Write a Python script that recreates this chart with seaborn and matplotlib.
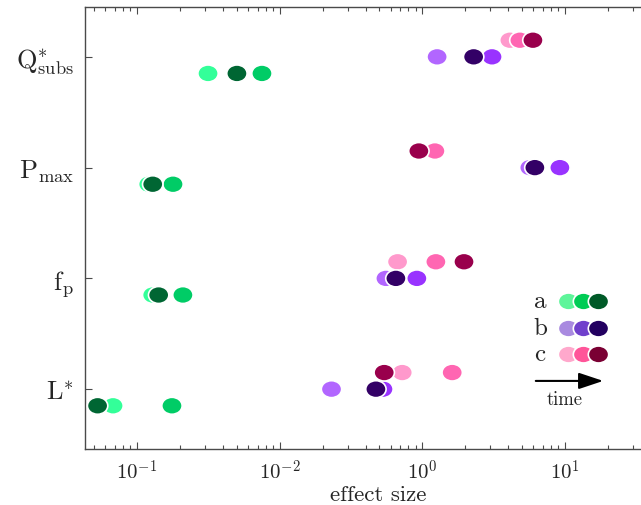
import numpy as np
import pandas as pd
import seaborn as sns
import matplotlib.pyplot as plt
from matplotlib.path import Path
from matplotlib.transforms import Affine2D

sns.set_style('white')
plt.rcParams['font.family'] = ['cmr10', 'DejaVu Serif']
plt.rcParams['mathtext.fontset'] = 'cm'
plt.rcParams['axes.unicode_minus'] = False
plt.rcParams['axes.formatter.use_mathtext'] = True

# rows of the chart, bottom to top
variables = ['L*', 'fp', 'Pmax', 'Q*subs']
var_labels = [r'$\mathrm{L}^{*}$', r'$\mathrm{f}_{\mathrm{p}}$',
              r'$\mathrm{P}_{\mathrm{max}}$', r'$\mathrm{Q}^{*}_{\mathrm{subs}}$']
groups = ['a', 'b', 'c']
times = [1, 2, 3]

# effect sizes, one list per group, [variable][time]
effect_a = [[0.0068, 0.0176, 0.0053],
            [0.0129, 0.0210, 0.0142],
            [0.0121, 0.0179, 0.0129],
            [0.0315, 0.0752, 0.0502]]
effect_b = [[0.231, 0.530, 0.473],
            [0.556, 0.916, 0.653],
            [5.67, 9.21, 6.15],
            [1.27, 3.08, 2.29]]
effect_c = [[0.723, 1.62, 0.541],
            [0.671, 1.245, 1.96],
            [0.95, 1.225, 0.946],
            [4.11, 4.83, 5.96]]

colors = {
    'a': ['#33ff99', '#00cc66', '#006633'],
    'b': ['#b266ff', '#9933ff', '#330066'],
    'c': ['#ff99cc', '#ff66b2', '#99004c'],
}
legend_colors = {
    'a': ['#5ef59a', '#00cc55', '#005a28'],
    'b': ['#a98ae0', '#7040cc', '#220060'],
    'c': ['#ffa8cc', '#ff5599', '#7a0033'],
}
offsets = {'a': -0.15, 'b': 0.0, 'c': 0.15}

rows = []
for g, eff in zip(groups, [effect_a, effect_b, effect_c]):
    for i, v in enumerate(variables):
        for j, t in enumerate(times):
            rows.append({'variable': v, 'group': g, 'time': t,
                         'effect': eff[i][j], 'y': i + offsets[g],
                         'key': f'{g}{t}'})
df = pd.DataFrame(rows).sort_values('time', kind='stable')
palette = {f'{g}{t}': colors[g][t - 1] for g in groups for t in times}

ellipse = Path.unit_circle().transformed(Affine2D().scale(1.2, 1.0))

fig = plt.figure(figsize=(6.41, 5.06), dpi=100)
# the plot runs past the right edge of the picture, as in the original crop
ax = fig.add_axes([0.1326, 0.1107, 0.9142, 0.8735])

sns.scatterplot(data=df, x='effect', y='y', hue='key', palette=palette,
                marker=ellipse, s=215, edgecolor='white', linewidth=1.2,
                legend=False, ax=ax, zorder=3)

ax.set_xscale('log')
ax.set_xlim(10 ** -2.364, 10 ** 1.743)
ax.set_ylim(-0.54, 3.45)
ax.set_xticks([0.01, 0.1, 1, 10])
ax.set_xticklabels([r'$10^{-1}$', r'$10^{-2}$', r'$10^{0}$', r'$10^{1}$'],
                   fontsize=15)
ax.set_yticks(range(len(variables)))
ax.set_yticklabels(var_labels, fontsize=19)
ax.set_xlabel('effect size', fontsize=16.5, labelpad=1)
ax.set_ylabel('')

for side in ['left', 'bottom', 'top']:
    ax.spines[side].set_color('#4a4a4a')
    ax.spines[side].set_linewidth(1.0)
ax.spines['right'].set_visible(False)
ax.tick_params(axis='x', which='both', direction='in', top=True,
               bottom=True, color='#4a4a4a', width=0.8)
ax.tick_params(axis='x', which='major', length=5, pad=7)
ax.tick_params(axis='x', which='minor', length=3)
ax.tick_params(axis='y', which='both', direction='in', left=True,
               length=5, color='#4a4a4a', width=0.8, pad=8)
ax.minorticks_on()
ax.yaxis.set_minor_locator(plt.NullLocator())

# legend: three overlapping dots per group, light to dark
# positions in axes fraction of the wider axes
def fx(px):
    return (px - 85) / 586

legend_y = [0.335, 0.274, 0.215]
dot_x = [fx(568), fx(583), fx(598)]
for g, yy in zip(groups, legend_y):
    ax.text(fx(540), yy, g, transform=ax.transAxes, fontsize=18,
            ha='center', va='center')
    for xx, c in zip(dot_x, legend_colors[g]):
        ax.scatter([xx], [yy], transform=ax.transAxes, marker=ellipse,
                   s=215, color=c, edgecolor='white', linewidth=1.2,
                   zorder=4, clip_on=False)

ax.annotate('', xy=(fx(606), 0.154), xytext=(fx(533), 0.154),
            xycoords='axes fraction',
            arrowprops=dict(arrowstyle='-|>,head_length=1.5,head_width=0.5',
                            color='black', lw=1.5))
ax.text(fx(565), 0.113, 'time', transform=ax.transAxes, fontsize=13.5,
        ha='center', va='center')

fig.savefig('out.png', dpi=100)
